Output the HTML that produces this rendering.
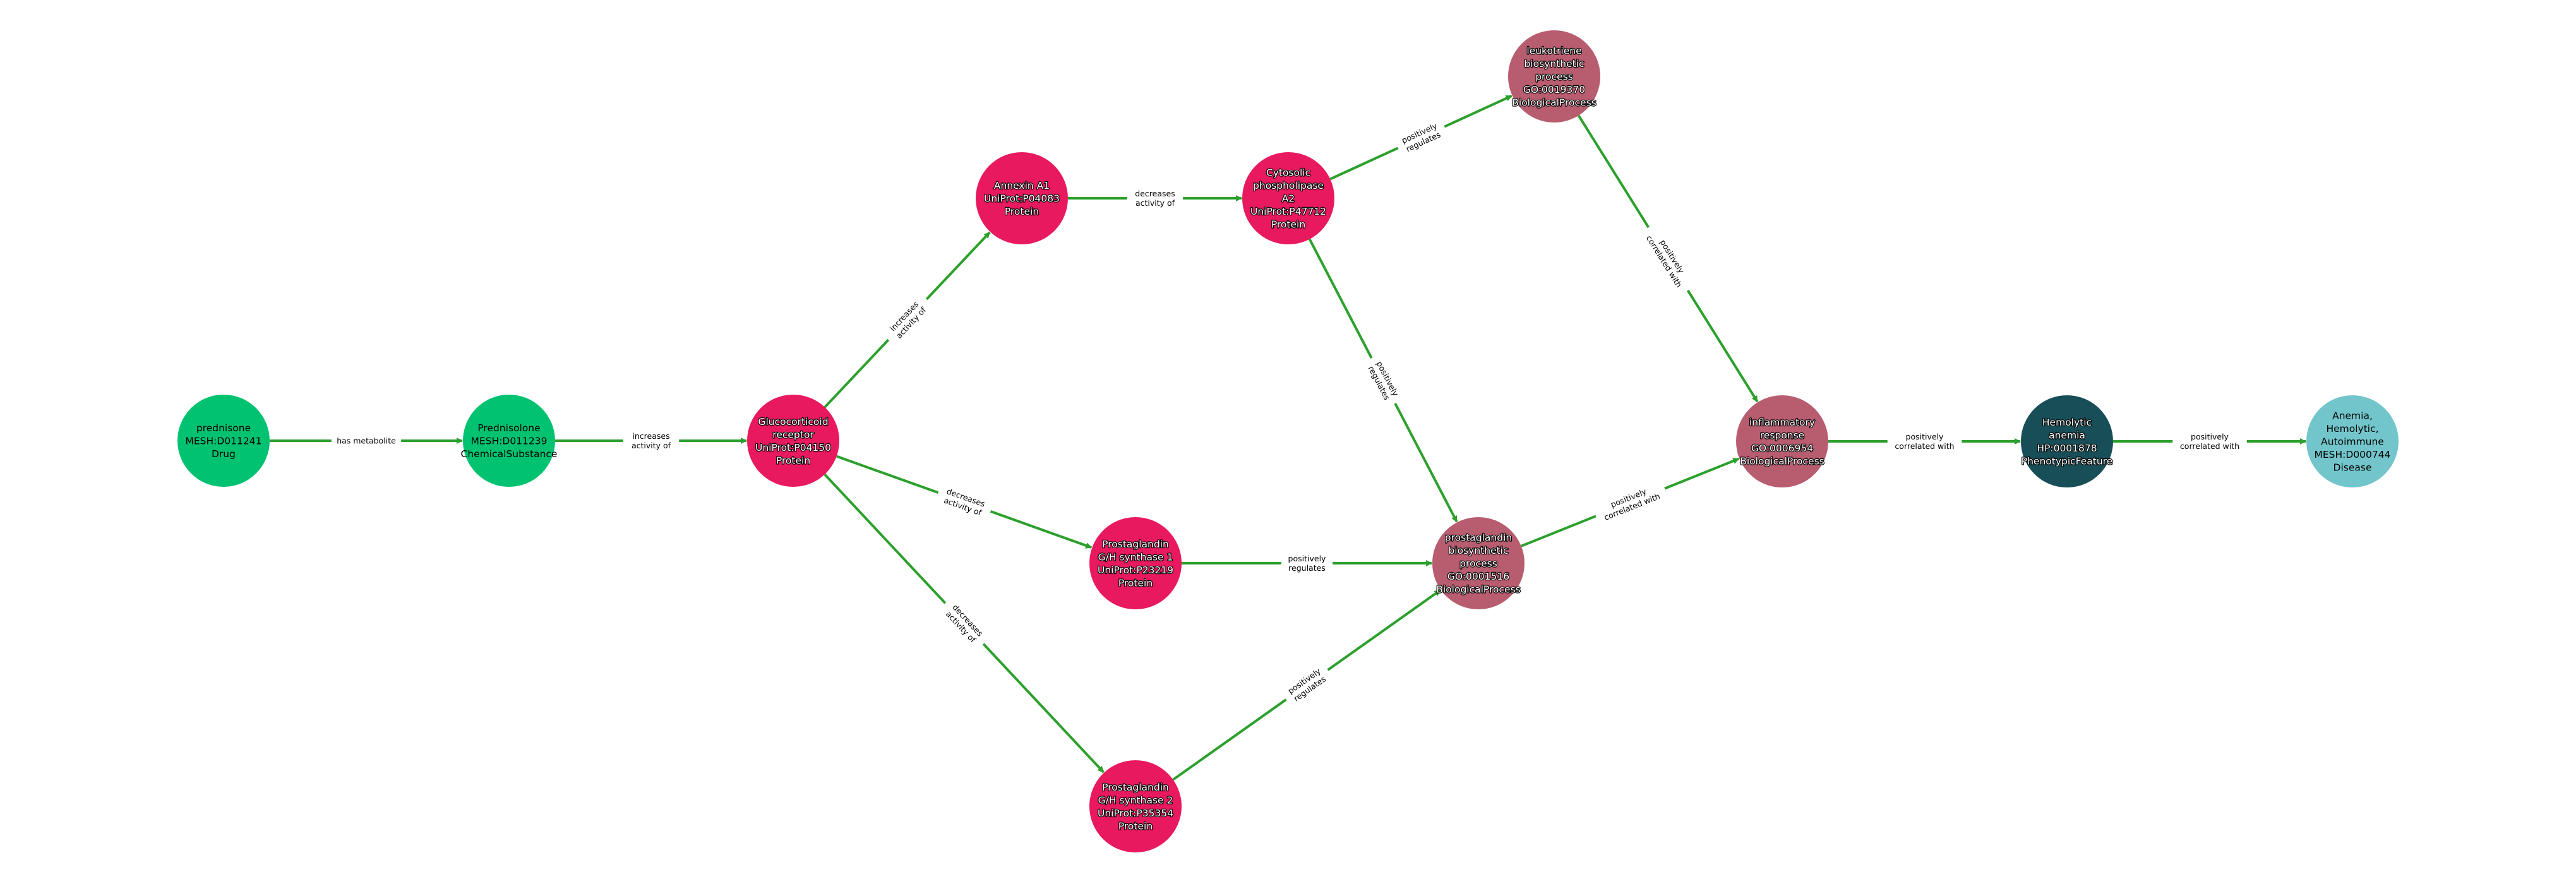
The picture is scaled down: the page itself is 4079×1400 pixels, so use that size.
<!DOCTYPE html>
<html><head><meta charset="utf-8"><style>
html,body{margin:0;padding:0;background:#fff;}
svg{display:block;}
text{font-family:"DejaVu Sans","Liberation Sans",sans-serif;}
.nl{font-size:15.5px;text-anchor:middle;}
.w{fill:#fff;stroke:#000;stroke-width:2.4px;paint-order:stroke;stroke-linejoin:round;}
.b{fill:#000;}
.el{font-size:12.5px;text-anchor:middle;fill:#000;}
</style></head><body>
<svg id="s" width="4079" height="1400" viewBox="0 0 4079 1400" xmlns="http://www.w3.org/2000/svg">
<defs><marker id="a" markerWidth="10" markerHeight="10" refX="9" refY="5" orient="auto" markerUnits="userSpaceOnUse"><path d="M0,0 L10,5 L0,10 z" fill="#2ca02c"/></marker></defs>
<g id="E"></g><g id="N"></g>
</svg>
<script>
var N={
pred:[354,698,'#00c270','b',['prednisone','MESH:D011241','Drug']],
predl:[806,698,'#00c270','b',['Prednisolone','MESH:D011239','ChemicalSubstance']],
gr:[1256,698,'#e8195f','w',['Glucocorticoid','receptor','UniProt:P04150','Protein']],
anx:[1618,314,'#e8195f','w',['Annexin A1','UniProt:P04083','Protein']],
cpla:[2040,314,'#e8195f','w',['Cytosolic','phospholipase','A2','UniProt:P47712','Protein']],
leu:[2461,121,'#b85c70','w',['leukotriene','biosynthetic','process','GO:0019370','BiologicalProcess']],
p1:[1798,892,'#e8195f','w',['Prostaglandin','G/H synthase 1','UniProt:P23219','Protein']],
p2:[1798,1277,'#e8195f','w',['Prostaglandin','G/H synthase 2','UniProt:P35354','Protein']],
pgb:[2341,892,'#b85c70','w',['prostaglandin','biosynthetic','process','GO:0001516','BiologicalProcess']],
inf:[2822,699,'#b85c70','w',['inflammatory','response','GO:0006954','BiologicalProcess']],
hem:[3273,699,'#174e57','w',['Hemolytic','anemia','HP:0001878','PhenotypicFeature']],
ane:[3725,699,'#72c6cb','b',['Anemia,','Hemolytic,','Autoimmune','MESH:D000744','Disease']]
};
var E=[
['pred','predl',['has metabolite']],
['predl','gr',['increases','activity of']],
['gr','anx',['increases','activity of']],
['gr','p1',['decreases','activity of']],
['gr','p2',['decreases','activity of']],
['anx','cpla',['decreases','activity of']],
['cpla','leu',['positively','regulates']],
['cpla','pgb',['positively','regulates']],
['p1','pgb',['positively','regulates']],
['p2','pgb',['positively','regulates']],
['leu','inf',['positively','correlated with']],
['pgb','inf',['positively','correlated with']],
['inf','hem',['positively','correlated with']],
['hem','ane',['positively','correlated with']]
];
var R=73,ns='http://www.w3.org/2000/svg',h='';
E.forEach(function(e){
var a=N[e[0]],b=N[e[1]],dx=b[0]-a[0],dy=b[1]-a[1],L=Math.sqrt(dx*dx+dy*dy),ux=dx/L,uy=dy/L;
var x1=a[0]+ux*R,y1=a[1]+uy*R,x2=b[0]-ux*(R+1),y2=b[1]-uy*(R+1);
h+='<line x1="'+x1+'" y1="'+y1+'" x2="'+x2+'" y2="'+y2+'" stroke="#2ca02c" stroke-width="4" marker-end="url(#a)"/>';
var mx=(a[0]+b[0])/2,my=(a[1]+b[1])/2,ang=Math.atan2(dy,dx)*180/Math.PI;
if(ang>90)ang-=180;if(ang<-90)ang+=180;
var n=e[2].length,lh=15,wmax=0;e[2].forEach(function(t){wmax=Math.max(wmax,t.length*7.3);});
h+='<g transform="translate('+mx+','+my+') rotate('+ang+')">';
h+='<rect x="'+(-wmax/2-4)+'" y="'+(-n*lh/2-2)+'" width="'+(wmax+8)+'" height="'+(n*lh+4)+'" fill="#fff"/>';
e[2].forEach(function(t,i){h+='<text class="el" x="0" y="'+((i-(n-1)/2)*lh+4.5)+'">'+t+'</text>';});
h+='</g>';
});
document.getElementById('E').innerHTML=h;
h='';
for(var k in N){var d=N[k];
h+='<circle cx="'+d[0]+'" cy="'+d[1]+'" r="'+R+'" fill="'+d[2]+'"/>';
var n=d[4].length,lh=20.5;
d[4].forEach(function(t,i){h+='<text class="nl '+d[3]+'" x="'+d[0]+'" y="'+(d[1]+(i-(n-1)/2)*lh+5.5)+'">'+t+'</text>';});
}
document.getElementById('N').innerHTML=h;
</script>
</body></html>
